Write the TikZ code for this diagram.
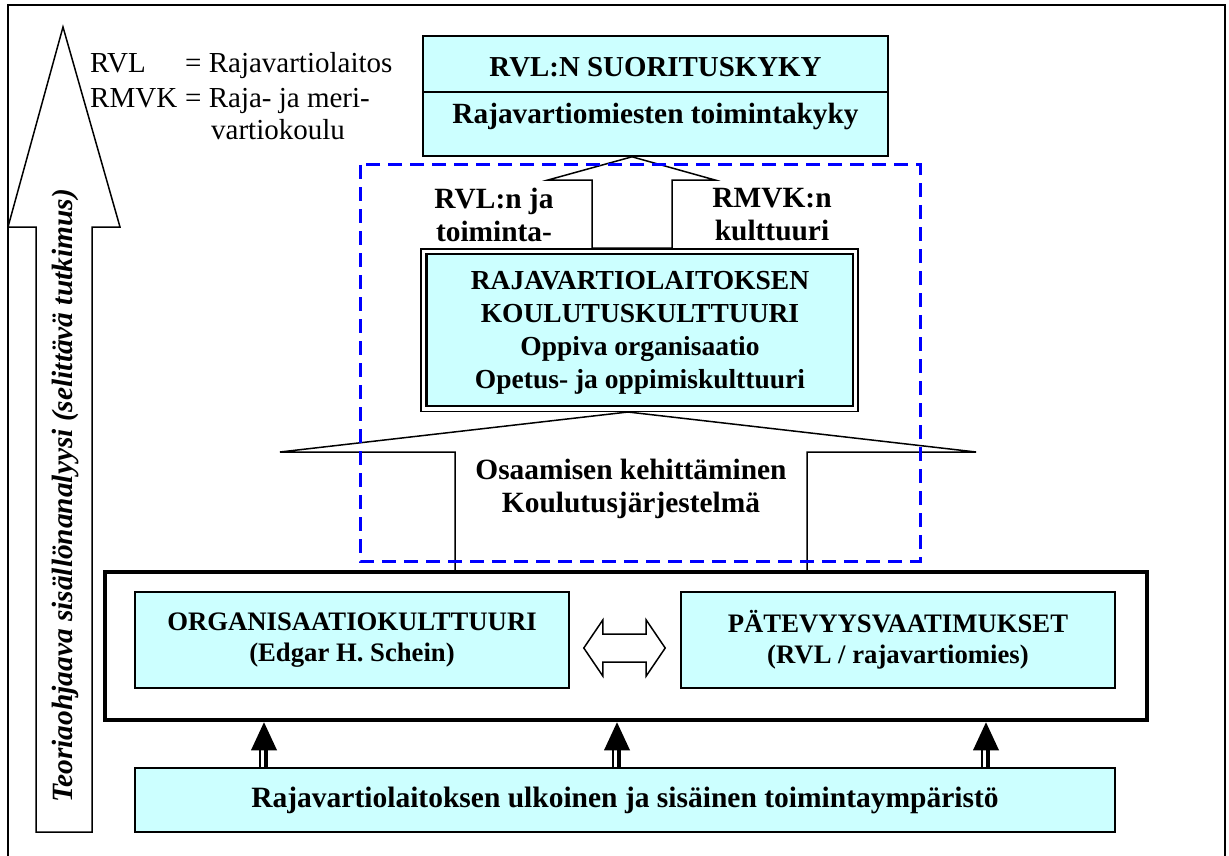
\documentclass[tikz,border=0pt]{standalone}
\usepackage{fontspec}
\setmainfont{Liberation Serif}
\usetikzlibrary{calc}
\definecolor{boxcyan}{HTML}{CCFFFF}
\definecolor{dashblue}{HTML}{0000FF}
\begin{document}
\begin{tikzpicture}[x=1pt,y=-1pt,
  txt/.style={font=\bfseries\fontsize{29.4}{33}\selectfont, align=center, inner sep=0pt},
  cbox/.style={draw, line width=1.6pt, fill=boxcyan, inner sep=0pt, align=center, font=\bfseries\fontsize{28}{33}\selectfont},
  hollow/.style={draw, line width=1.5pt, fill=white, line join=miter},
  abbr/.style={font=\fontsize{29}{34}\selectfont, inner sep=0pt, anchor=base west},
]
\useasboundingbox (0,0) rectangle (1229,856);
% frame
\draw[line width=2.5pt] (8,856) -- (8,5) -- (1225,5) -- (1225,856);

% left arrow
\draw[hollow] (36,832) -- (36,227) -- (8,227) -- (63,27) -- (120,227) -- (92,227) -- (92,832) -- cycle;
\node[font=\bfseries\itshape\fontsize{29.4}{34}\selectfont, rotate=90, inner sep=0pt] (theory) at (65,496) {Teoriaohjaava sisällönanalyysi (selittävä tutkimus)};

% abbreviations
\node[abbr] (ab1) at (90,73) {RVL};
\node[abbr] (ab2) at (185,73) {= Rajavartiolaitos};
\node[abbr] (ab3) at (90,108) {RMVK};
\node[abbr] (ab4) at (185,108) {= Raja- ja meri-};
\node[abbr] (ab5) at (211,140) {vartiokoulu};

% top box
\node[cbox, font=\bfseries\fontsize{28.9}{33}\selectfont, minimum width=465pt, minimum height=56pt, text height=26pt, text depth=0pt] (topA) at (655.5,64) {RVL:N SUORITUSKYKY};
\node[cbox, font=\bfseries\fontsize{29.3}{33}\selectfont, minimum width=465pt, minimum height=64pt, text height=10pt, text depth=10pt] (topB) at (655.5,124) {Rajavartiomiesten toimintakyky};

% training culture box
\node[draw, line width=1.5pt, fill=white, minimum width=437pt, minimum height=162.5pt, inner sep=0pt] (kk) at (639.5,330) {};
\draw[line width=2.5pt, fill=boxcyan] ($(kk.south west)+(6,-6)$) rectangle ($(kk.north east)+(-6,6)$);
\node[txt, font=\bfseries\fontsize{27.5}{33}\selectfont] (kktext) at (640,333) {RAJAVARTIOLAITOKSEN\\KOULUTUSKULTTUURI\\Oppiva organisaatio\\Opetus- ja oppimiskulttuuri};

% upper arrow
\coordinate (ua1) at (592,0);
\coordinate (ua2) at (632,0);
\coordinate (ua3) at (672,0);
\draw[hollow] (kk.north -| ua1) -- (592,180) -- (548,180) -- (topB.south -| ua2) -- (715,180) -- (672,180) -- (kk.north -| ua3) -- cycle;
\node[txt] (lblL) at (494,215) {RVL:n ja\\toiminta-};
\node[txt] (lblR) at (772,215) {RMVK:n\\kulttuuri};

% middle frame box
\node[draw, line width=4.5pt, minimum width=1042pt, minimum height=148pt, inner sep=0pt] (mid) at (626,646) {};
\node[cbox, font=\bfseries\fontsize{26.7}{31}\selectfont, minimum width=434pt, minimum height=96pt] (org) at (352,640) {ORGANISAATIOKULTTUURI\\(Edgar H. Schein)};
\node[cbox, font=\bfseries\fontsize{26.7}{31}\selectfont, minimum width=434pt, minimum height=96pt] (pat) at (898,640) {PÄTEVYYSVAATIMUKSET\\(RVL / rajavartiomies)};

% lower big arrow
\coordinate (la1) at (455,0);
\coordinate (la2) at (628,0);
\coordinate (la3) at (807,0);
\draw[hollow] (mid.north -| la1) -- (455,452) -- (280,452) -- (kk.south -| la2) -- (976,452) -- (807,452) -- (mid.north -| la3);
\node[txt] (lblM) at (631,489) {Osaamisen kehittäminen\\Koulutusjärjestelmä};

% double arrow
\draw[hollow] ($(org.east)+(14,8)$) -- ++(19,-28) -- ++(0,14) -- ($(pat.west)+(-34,-6)$) -- ++(0,-14) -- ($(pat.west)+(-15,8)$) -- ++(-19,28) -- ++(0,-14) -- ($(org.east)+(33,22)$) -- ++(0,14) -- cycle;

% environment box
\node[cbox, font=\bfseries\fontsize{29.5}{33}\selectfont, minimum width=980pt, minimum height=64pt] (env) at (625,800) {Rajavartiolaitoksen ulkoinen ja sisäinen toimintaympäristö};

% small arrows
\foreach \ax [count=\i] in {264,617,986} {
  \coordinate (sa\i) at (\ax,0);
  \draw[line width=1.2pt] ($(env.north -| sa\i)+(-4,0)$) -- ($(mid.south -| sa\i)+(-4,27)$);
  \draw[line width=3.5pt] ($(env.north -| sa\i)+(2,0)$) -- ($(mid.south -| sa\i)+(2,27)$);
  \fill ($(mid.south -| sa\i)+(-13,28)$) -- (mid.south -| sa\i) -- ($(mid.south -| sa\i)+(13,28)$) -- cycle;
}

% dashed region
\draw[dashblue, line width=3pt, dash pattern=on 14pt off 8pt] (360,165) rectangle (920,561);
\end{tikzpicture}
\end{document}
